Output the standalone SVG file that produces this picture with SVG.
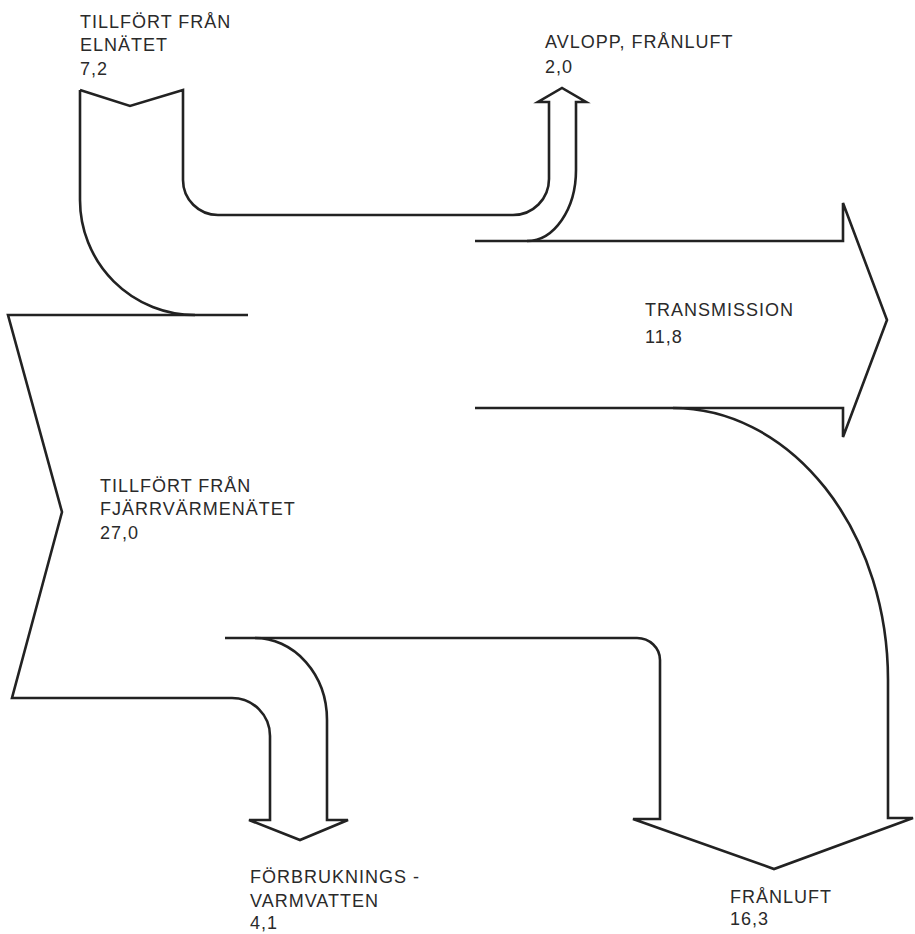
<svg xmlns="http://www.w3.org/2000/svg" width="915" height="934" viewBox="0 0 915 934">
<style>
.ln{fill:none;stroke:#222;stroke-width:2.6;stroke-linejoin:miter;stroke-linecap:butt}
.t{font-family:"Liberation Sans",Arial,sans-serif;font-size:18px;letter-spacing:1px;fill:#2a2a2a}
</style>
<rect width="915" height="934" fill="#fff"/>
<g id="elnat">
<path class="ln" d="M80,90 L130,106 L183,90 L183,180 A35,35 0 0 0 218,215 L513,215 A36,36 0 0 0 549,179 L549,102 L538,102 L562,88 L586,102 L576,102 L576,170 A49,71 0 0 1 527,241"/>
<path class="ln" d="M80,90 L80,200 A115,115 0 0 0 195,315"/>
<text class="t" x="80" y="28">TILLFÖRT FRÅN</text>
<text class="t" x="80" y="51">ELNÄTET</text>
<text class="t" x="80" y="75">7,2</text>
</g>
<g id="avlopp">
<text class="t" x="545" y="48">AVLOPP, FRÅNLUFT</text>
<text class="t" x="545" y="73">2,0</text>
</g>
<g id="transmission">
<path class="ln" d="M475,241 L843,241 L843,203 L887,320 L843,437 L843,408 L475,408"/>
<text class="t" x="645" y="316">TRANSMISSION</text>
<text class="t" x="645" y="343">11,8</text>
</g>
<g id="fjarrvarme">
<path class="ln" d="M248,315 L8,315 L62,512 L12,698 L232,698 A38,38 0 0 1 270,736 L270,820 L249,820 L300,840 L348,820 L327,820 L327,720 A72,82 0 0 0 255,638"/>
<text class="t" x="100" y="492">TILLFÖRT FRÅN</text>
<text class="t" x="100" y="515">FJÄRRVÄRMENÄTET</text>
<text class="t" x="100" y="539">27,0</text>
</g>
<g id="forbrukning">
<text class="t" x="250" y="883">FÖRBRUKNINGS -</text>
<text class="t" x="250" y="907">VARMVATTEN</text>
<text class="t" x="250" y="929">4,1</text>
</g>
<g id="franluft">
<path class="ln" d="M225,638 L637,638 A23,22 0 0 1 660,660 L660,819 L633,819 L774,869 L913,818 L888,818 L888,680 A215,272 0 0 0 673,408"/>
<text class="t" x="730" y="903">FRÅNLUFT</text>
<text class="t" x="730" y="925">16,3</text>
</g>
</svg>
